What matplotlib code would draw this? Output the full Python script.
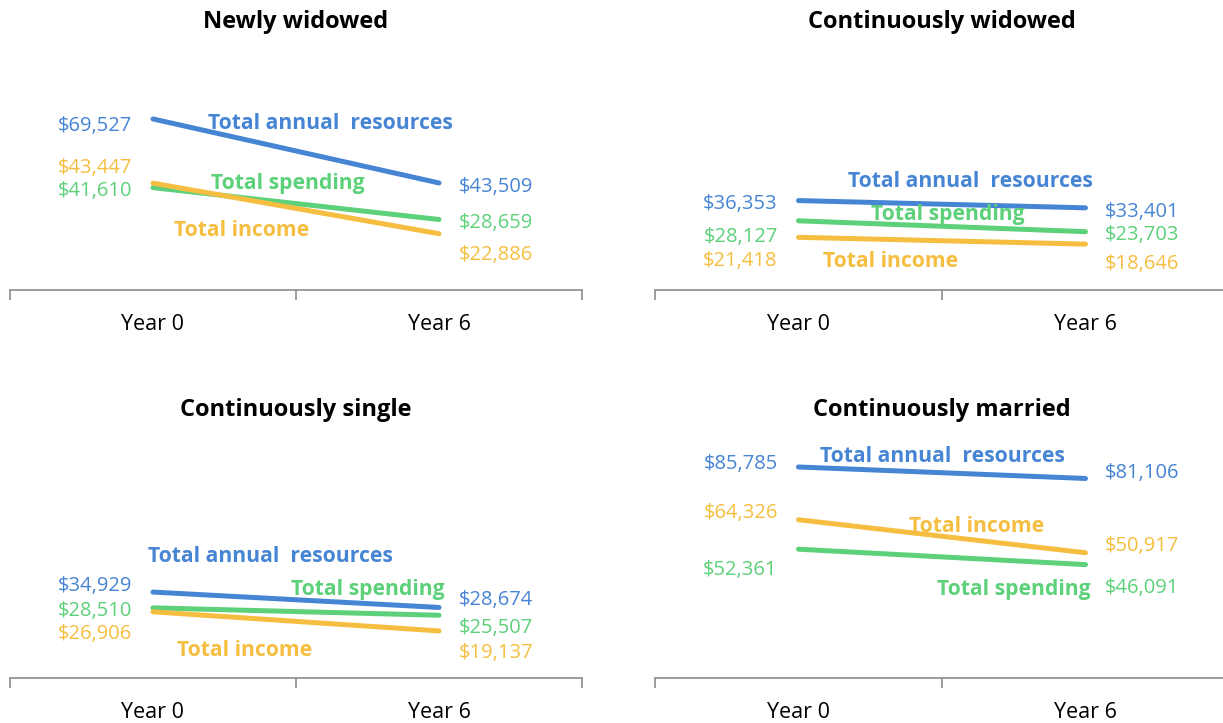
import matplotlib
matplotlib.use('Agg')
import matplotlib.pyplot as plt

plt.rcParams['font.family'] = ['Open Sans', 'DejaVu Sans']

# data
years = ['Year 0', 'Year 6']
panels = ['Newly widowed', 'Continuously widowed', 'Continuously single', 'Continuously married']
series_names = ['Total annual  resources', 'Total spending', 'Total income']

resources = [[69527, 43509], [36353, 33401], [34929, 28674], [85785, 81106]]
spending = [[41610, 28659], [28127, 23703], [28510, 25507], [52361, 46091]]
income = [[43447, 22886], [21418, 18646], [26906, 19137], [64326, 50917]]

colors = ['#4684d4', '#5dd07a', '#f6be40']

# label placement (x in category units, y in data units)
value_label_y = [
    # [resources, spending, income] for (Year 0, Year 6)
    [[67500, 42700], [41100, 28000], [50400, 15000]],
    [[35800, 32500], [22400, 23200], [12600, 11400]],
    [[38200, 32500], [28000, 21100], [18700, 11000]],
    [[87800, 84100], [44700, 37400], [67900, 54500]],
]
name_pos = [
    [(0.62, 67500), (0.47, 43100), (0.31, 24000)],
    [(0.60, 44300), (0.52, 30500), (0.32, 11400)],
    [(0.41, 49200), (0.75, 35800), (0.32, 11000)],
    [(0.50, 90200), (0.75, 35800), (0.62, 61400)],
]

W, H = 1223, 723
fig = plt.figure(figsize=(W / 100, H / 100), dpi=100)

# axes boxes in pixels: left, bottom(axis line), width
boxes = [(10, 290, 572), (655, 290, 574), (10, 678, 572), (655, 678, 574)]
plot_h = 246

for i, (left, base, width) in enumerate(boxes):
    ax = fig.add_axes([left / W, 1 - base / H, width / W, plot_h / H])
    ax.set_xlim(-0.5, 1.5)
    ax.set_ylim(0, 100000)
    for s in ['top', 'right', 'left']:
        ax.spines[s].set_visible(False)
    ax.spines['bottom'].set_color('#8c8c8c')
    ax.spines['bottom'].set_linewidth(1.2)
    ax.set_yticks([])
    ax.set_xticks([-0.5, 0.5, 1.5])
    ax.set_xticklabels([])
    ax.tick_params(axis='x', which='major', length=7, width=1.2, color='#8c8c8c')
    ax.set_xticks([0, 1], minor=True)
    ax.set_xticklabels(years, minor=True, fontsize=15.5, color='black')
    ax.tick_params(axis='x', which='minor', length=0, pad=17.5)

    vals = [resources[i], spending[i], income[i]]
    for k, v in enumerate(vals):
        ax.plot([0, 1], v, color=colors[k], lw=3.6, solid_capstyle='round', zorder=2)
        ly0, ly1 = value_label_y[i][k]
        ax.annotate(f'${v[0]:,}', (0, ly0), xytext=(-15, -1.5), textcoords='offset points',
                    ha='right', va='center', fontsize=14.5, color=colors[k])
        ax.annotate(f'${v[1]:,}', (1, ly1), xytext=(14, -1.5), textcoords='offset points',
                    ha='left', va='center', fontsize=14.5, color=colors[k])
        nx, ny = name_pos[i][k]
        ax.text(nx, ny, series_names[k], ha='center', va='center', fontsize=15.2,
                fontweight='bold', color=colors[k], zorder=3)

    ax.text(0.5, 1 + 22 / plot_h, panels[i], transform=ax.transAxes, ha='center',
            va='center', fontsize=17, fontweight='bold', color='black')

fig.savefig('out.png', dpi=100)
